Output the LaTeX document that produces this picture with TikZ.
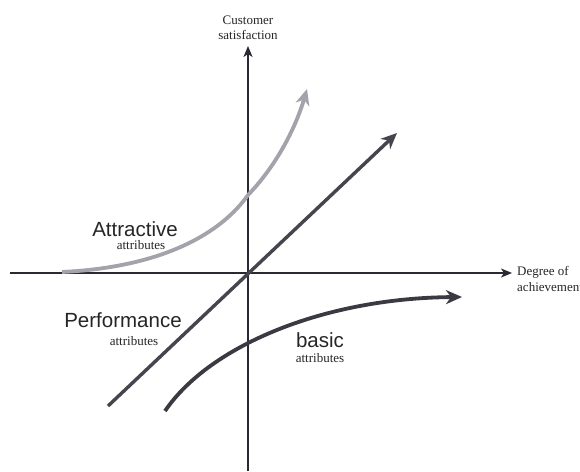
\documentclass[tikz,border=0pt]{standalone}
\usepackage{fontspec}
\setmainfont{Liberation Serif}
\setsansfont{Liberation Sans}
\usetikzlibrary{arrows.meta}
\definecolor{axiscol}{HTML}{2A2A35}
\definecolor{perfcol}{HTML}{45454D}
\definecolor{basiccol}{HTML}{3A3A42}
\definecolor{attrcol}{HTML}{A2A3AB}
\tikzset{
  axisline/.style={draw=axiscol, line width=1.8pt, -{Stealth[length=11pt,width=9pt,inset=3pt]}},
  curveline/.style={line width=3.8pt, -{Stealth[length=16pt,width=14pt,inset=5pt]}},
  bigsans/.style={font=\fontsize{20.5}{22}\sffamily, text=black!85, inner sep=0pt},
  smallserif/.style={font=\fontsize{13}{14}\selectfont, text=black!85, inner sep=0pt},
  axislabel/.style={font=\fontsize{13}{15.5}\selectfont, text=black!85, inner sep=0pt, align=left}
}
\begin{document}
\begin{tikzpicture}[x=1pt,y=-1pt]
\useasboundingbox[fill=white] (0,0) rectangle (580,471);
% axes
\coordinate (ybot) at (248,471);
\coordinate (ytop) at (248,46);
\coordinate (xleft) at (10,273);
\coordinate (xright) at (512,273);
\draw[axisline] (ybot) -- (ytop);
\draw[axisline] (xleft) -- (xright);
\node[axislabel, align=center, anchor=south] (ylab) at (248,40) {Customer\\satisfaction};
\node[axislabel, anchor=west] (xlab) at (517,279) {Degree of\\achievement};
% attractive
\coordinate (a0) at (62,272);
\coordinate (am) at (248,195);
\coordinate (a1) at (307,89);
\draw[curveline, draw=attrcol] (a0) .. controls (165,267) and (222,232) .. (am)
   .. controls (275,167) and (295,130) .. (a1);
% performance
\coordinate (p0) at (108,406);
\coordinate (p1) at (397,133);
\draw[curveline, draw=perfcol, line width=3.4pt] (p0) -- (p1);
% basic
\coordinate (b0) at (165,411);
\coordinate (b1) at (462,297);
\draw[curveline, draw=basiccol] (b0) .. controls (210,345) and (325,298) .. (b1);
% labels
\node[bigsans] (attr) at (135,229) {Attractive};
\node[smallserif] (attrsub) at (141,245) {attributes};
\node[bigsans] (perf) at (123,320) {Performance};
\node[smallserif] (perfsub) at (134,341) {attributes};
\node[bigsans] (basic) at (320,340) {basic};
\node[smallserif] (basicsub) at (320,358) {attributes};
\end{tikzpicture}
\end{document}
